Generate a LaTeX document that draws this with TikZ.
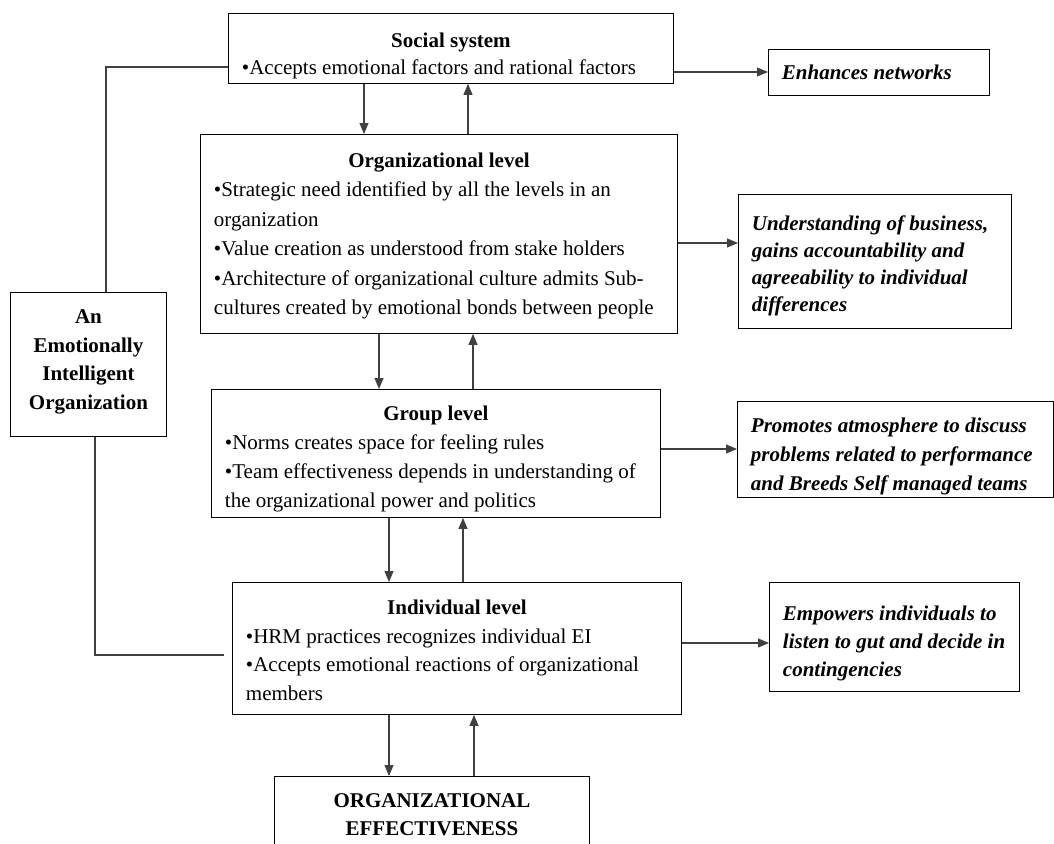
\documentclass[tikz,border=0pt]{standalone}
\usepackage{fontspec}
\setmainfont{Liberation Serif}
\usetikzlibrary{arrows.meta}
\definecolor{linegray}{HTML}{404040}
\tikzset{
  box/.style={draw=black, line width=0.9pt, inner xsep=13.5pt, inner ysep=0pt, align=flush left,
    anchor=north west, font=\fontsize{21}{29}\selectfont},
  outbox/.style={box, font=\fontsize{21}{28}\selectfont\bfseries\itshape},
  arr/.style={draw=linegray, line width=1.1pt, -{Triangle[length=11pt,width=9pt]}},
  conn/.style={draw=linegray, line width=1.1pt}
}
\begin{document}
\begin{tikzpicture}[x=1pt,y=-1pt]
\useasboundingbox (0,0) rectangle (1054,843);

\node[box, text width=418pt, text height=34pt, text depth=36pt, font=\fontsize{21}{27}\selectfont] (social) at (228,13)
  {{\centering\bfseries Social system\par}•Accepts emotional factors and rational factors};
\node[box, text width=450pt, text height=33pt, text depth=166pt, font=\fontsize{21}{29.4}\selectfont] (org) at (200,134)
  {{\centering\bfseries Organizational level\par}•Strategic need identified by all the levels in an\\
   organization\\ •Value creation as understood from stake holders\\
   •Architecture of organizational culture admits Sub-\\ cultures created by emotional bonds between people};
\node[box, text width=422pt, text height=31pt, text depth=97pt] (group) at (211,389)
  {{\centering\bfseries Group level\par}•Norms creates space for feeling rules\\
   •Team effectiveness depends in understanding of\\ the organizational power and politics};
\node[box, text width=422pt, text height=32pt, text depth=100pt, font=\fontsize{21}{28.7}\selectfont] (indiv) at (232,582)
  {{\centering\bfseries Individual level\par}•HRM practices recognizes individual EI\\
   •Accepts emotional reactions of organizational\\ members};
\begin{scope}
\clip (0,0) rectangle (1054,843);
\node[box, text width=288pt, text height=31pt, text depth=60pt, align=center, font=\fontsize{21}{28}\selectfont\bfseries] (oe) at (274,776)
  {ORGANIZATIONAL\\ EFFECTIVENESS};
\end{scope}
\node[box, text width=129pt, text height=31pt, text depth=113pt, align=center, font=\fontsize{21}{28.7}\selectfont\bfseries] (ei) at (10,292)
  {An\\ Emotionally\\ Intelligent\\ Organization};

\node[outbox, text width=194pt, text height=30pt, text depth=16pt] (enh) at (768,49) {Enhances networks};
\node[outbox, text width=246pt, text height=36pt, text depth=98pt, font=\fontsize{21}{27}\selectfont\bfseries\itshape] (und) at (738,194)
  {Understanding of business,\\ gains accountability and\\ agreeability to individual\\ differences};
\node[outbox, text width=289pt, text height=31pt, text depth=65pt, font=\fontsize{21}{29}\selectfont\bfseries\itshape] (prom) at (737,401)
  {Promotes atmosphere to discuss\\ problems related to performance\\ and Breeds Self managed teams};
\node[outbox, text width=223pt, text height=38pt, text depth=71pt] (emp) at (769,582)
  {Empowers individuals to\\ listen to gut and decide in\\ contingencies};

% vertical arrows
\draw[arr] (social.south -| 364,0) -- (org.north -| 364,0);
\draw[arr] (org.north -| 468,0) -- (social.south -| 468,0);
\draw[arr] (org.south -| 379,0) -- (group.north -| 379,0);
\draw[arr] (group.north -| 473,0) -- (org.south -| 473,0);
\draw[arr] (group.south -| 389,0) -- (indiv.north -| 389,0);
\draw[arr] (indiv.north -| 463,0) -- (group.south -| 463,0);
\draw[arr] (indiv.south -| 389,0) -- (oe.north -| 389,0);
\draw[arr] (oe.north -| 474,0) -- (indiv.south -| 474,0);

% horizontal arrows
\draw[arr] (social.east |- 0,72) -- (enh.west |- 0,72);
\draw[arr] (org.east |- 0,243) -- (und.west |- 0,243);
\draw[arr] (group.east |- 0,449) -- (prom.west |- 0,449);
\draw[arr] (indiv.east |- 0,643) -- (emp.west |- 0,643);

% left connectors
\draw[conn] (social.west |- 0,67) -| (ei.north -| 106,0);
\draw[conn, shorten >=8pt] (ei.south -| 95,0) |- (indiv.west |- 0,655);
\end{tikzpicture}
\end{document}
